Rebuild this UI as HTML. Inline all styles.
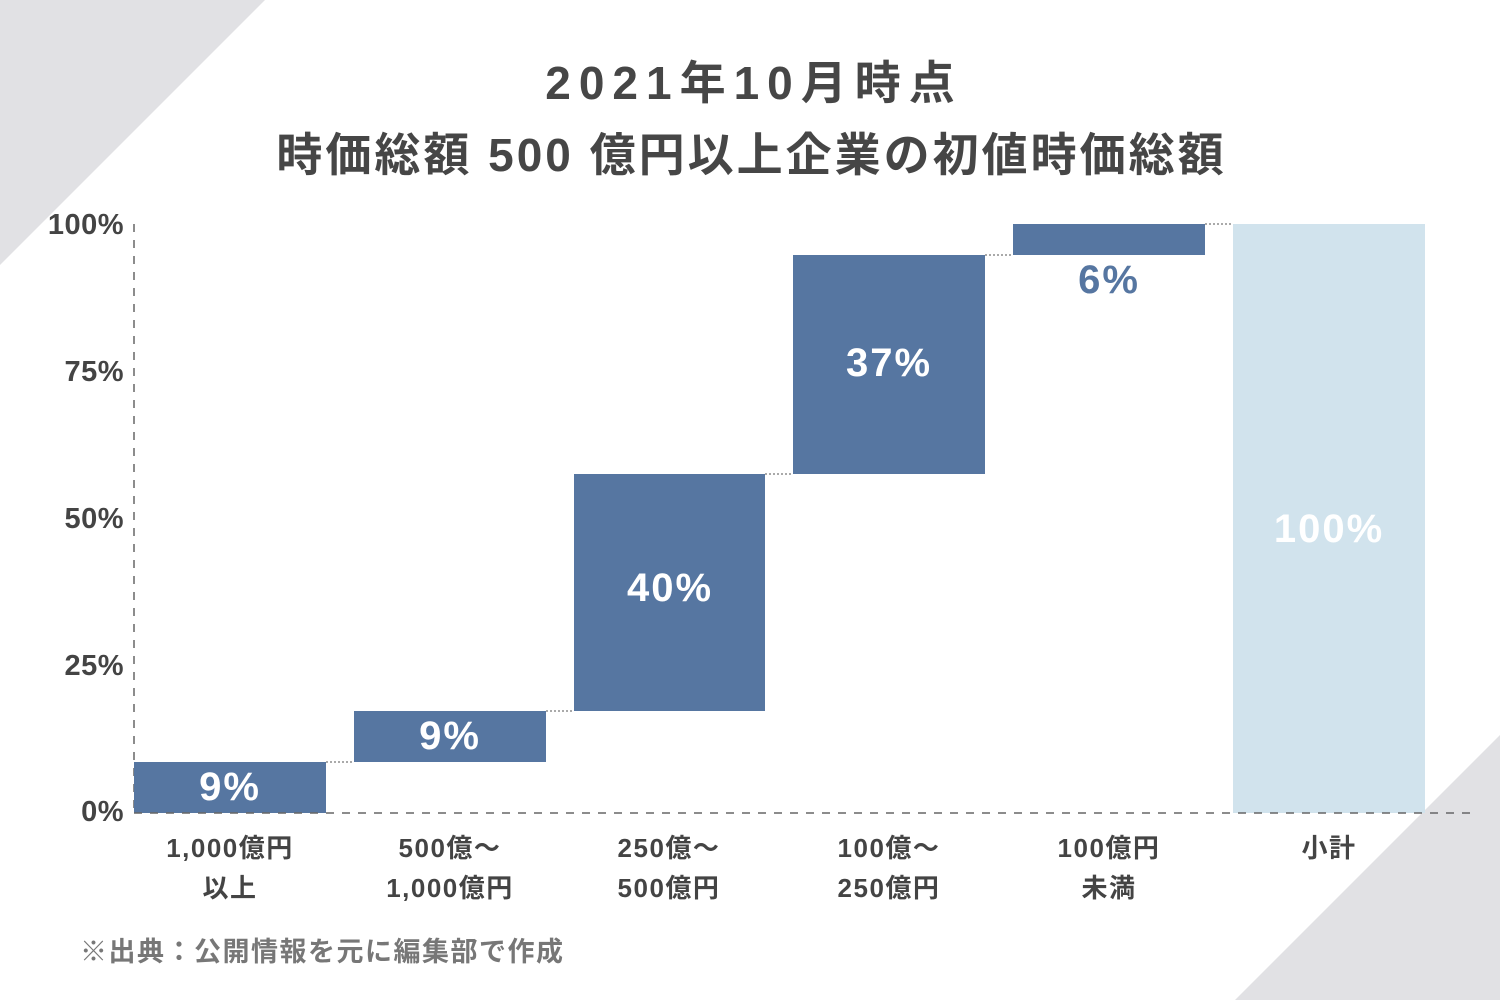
<!DOCTYPE html>
<html><head><meta charset="utf-8"><style>
body{margin:0;width:1500px;height:1000px;background:#fff;position:relative;overflow:hidden;font-family:"Liberation Sans","Noto Sans CJK JP",sans-serif;color:#444}
.t{position:absolute;left:0;width:1500px;text-align:center;font-weight:bold;font-size:46px;color:#464646;white-space:nowrap}
.yl{position:absolute;width:124px;text-align:right;left:0;font-size:29px;color:#444;font-weight:bold;letter-spacing:0.5px}
.xl{position:absolute;width:220px;text-align:center;font-size:26px;line-height:40px;color:#444;font-weight:bold;letter-spacing:1.5px}
.v{position:absolute;font-weight:bold;font-size:40px;text-align:center;width:192px;color:#fff;letter-spacing:2px}
</style></head><body>
<svg width="1500" height="1000" style="position:absolute;left:0;top:0">
<polygon points="0,0 265,0 0,265" fill="#e1e1e4"/>
<polygon points="1500,735 1500,1000 1235,1000" fill="#e1e1e4"/>
<line x1="134" y1="224" x2="134" y2="813" stroke="#666" stroke-width="1.5" stroke-dasharray="8,8"/>
<rect x="134" y="762" width="192" height="51" fill="#5676a1"/>
<rect x="354" y="711" width="192" height="51" fill="#5676a1"/>
<rect x="574" y="474" width="191" height="237" fill="#5676a1"/>
<rect x="793" y="255" width="192" height="219" fill="#5676a1"/>
<rect x="1013" y="224" width="192" height="31" fill="#5676a1"/>
<rect x="1233" y="224" width="192" height="589" fill="#d1e3ed"/>
<g stroke="#555" stroke-width="1" stroke-dasharray="2,2">
<line x1="326" y1="762" x2="354" y2="762"/><line x1="546" y1="711" x2="574" y2="711"/>
<line x1="765" y1="474" x2="793" y2="474"/><line x1="985" y1="255" x2="1013" y2="255"/>
<line x1="1205" y1="224" x2="1233" y2="224"/></g>
<line x1="134" y1="813" x2="1475" y2="813" stroke="#666" stroke-width="1.5" stroke-dasharray="8,8"/>
</svg>
<div class="t" style="top:47px;letter-spacing:8px;text-indent:8px">2021年10月時点</div>
<div class="t" style="top:119px;letter-spacing:3px;text-indent:3px">時価総額 500 億円以上企業の初値時価総額</div>
<div class="yl" style="top:209px">100%</div>
<div class="yl" style="top:356px">75%</div>
<div class="yl" style="top:503px">50%</div>
<div class="yl" style="top:650px">25%</div>
<div class="yl" style="top:796px">0%</div>
<div class="v" style="left:134px;top:765px">9%</div>
<div class="v" style="left:354px;top:714px">9%</div>
<div class="v" style="left:574px;top:566px">40%</div>
<div class="v" style="left:793px;top:341px">37%</div>
<div class="v" style="left:1013px;top:258px;color:#5676a1">6%</div>
<div class="v" style="left:1233px;top:507px">100%</div>
<div class="xl" style="left:120px;top:828px">1,000億円<br>以上</div>
<div class="xl" style="left:340px;top:828px">500億～<br>1,000億円</div>
<div class="xl" style="left:559px;top:828px">250億～<br>500億円</div>
<div class="xl" style="left:779px;top:828px">100億～<br>250億円</div>
<div class="xl" style="left:999px;top:828px">100億円<br>未満</div>
<div class="xl" style="left:1219px;top:828px">小計</div>
<div style="position:absolute;left:80px;top:930px;font-size:27px;font-weight:bold;color:#777;letter-spacing:1.5px">※出典：公開情報を元に編集部で作成</div>
</body></html>
